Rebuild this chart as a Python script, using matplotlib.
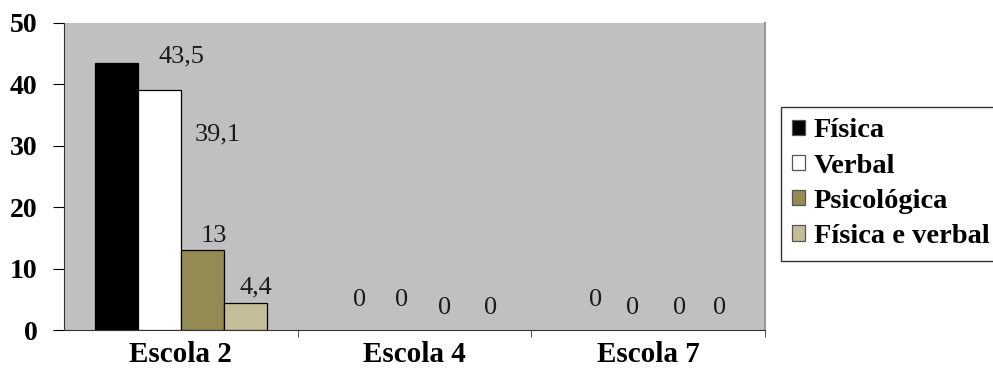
import matplotlib
matplotlib.use("Agg")
import matplotlib.pyplot as plt
import numpy as np

# Data
escolas = ["Escola 2", "Escola 4", "Escola 7"]
series_names = ["Física", "Verbal", "Psicológica", "Física e verbal"]
fisica = [43.5, 0, 0]
verbal = [39.1, 0, 0]
psicologica = [13, 0, 0]
fisica_verbal = [4.4, 0, 0]
value_labels = [["43,5", "0", "0"], ["39,1", "0", "0"], ["13", "0", "0"], ["4,4", "0", "0"]]

colors = ["#000000", "#FFFFFF", "#948A54", "#C4BD97"]
# label offsets in pixels (dx, dy) relative to bar top centre, Excel-style placement
label_offsets = [
    [(65, 6), (10, 30), (12, 30)],
    [(58, -45), (9, 30), (6, 22)],
    [(11, 14), (9, 22), (10, 22)],
    [(10, 16), (11, 22), (7, 22)],
]

plt.rcParams["font.family"] = ["Liberation Serif", "DejaVu Serif"]

fig = plt.figure(figsize=(9.93, 3.82), dpi=100)
ax = fig.add_axes([64 / 993, 1 - 330 / 382, (765 - 64) / 993, (330 - 23) / 382])
ax.set_facecolor("#C0C0C0")

x = np.arange(len(escolas))
w = 43 / 233
all_series = [fisica, verbal, psicologica, fisica_verbal]
for i, (vals, name) in enumerate(zip(all_series, series_names)):
    pos = x + (i - 1.5) * w
    lws = [0.9 if v > 0 else 0 for v in vals]
    ax.bar(pos, vals, width=w, color=colors[i], edgecolor="black", linewidth=lws,
           label=name, zorder=3)
    for j, v in enumerate(vals):
        dx, dy = label_offsets[i][j]
        ax.annotate(value_labels[i][j], xy=(pos[j], v), xytext=(dx * 0.72, dy * 0.72),
                    textcoords="offset points", ha="center", va="center",
                    fontsize=19, color="#1a1a1a", zorder=4)

ax.set_xlim(-0.5, 2.5)
ax.set_ylim(0, 50)
ax.set_yticks([0, 10, 20, 30, 40, 50])
ax.set_xticks(x)
ax.set_xticklabels(escolas, fontsize=21, fontweight="bold")
ax.set_xticks([0.5, 1.5, 2.5], minor=True)
ax.tick_params(axis="x", which="major", length=0, pad=8)
ax.tick_params(axis="x", which="minor", length=5, direction="out", color="#333333")
ax.tick_params(axis="y", length=8, direction="out", labelsize=20, pad=11)
for lab in ax.get_yticklabels():
    lab.set_fontweight("bold")

ax.spines["left"].set_color("#333333")
ax.spines["bottom"].set_color("#333333")
ax.spines["top"].set_visible(False)
ax.spines["right"].set_color("#9a9a9a")
ax.spines["right"].set_linewidth(1.5)

leg = fig.legend(loc="upper left", bbox_to_anchor=(781 / 993, 1 - 107 / 382),
                 prop={"weight": "bold", "size": 20.5}, frameon=True, fancybox=False,
                 edgecolor="black", handlelength=0.45, handleheight=0.45,
                 handletextpad=0.3, borderpad=0.4, labelspacing=0.36,
                 borderaxespad=0)
leg.get_frame().set_linewidth(1.0)
for h in leg.legend_handles:
    h.set_edgecolor("#555555")

fig.savefig("out.png", dpi=100)
